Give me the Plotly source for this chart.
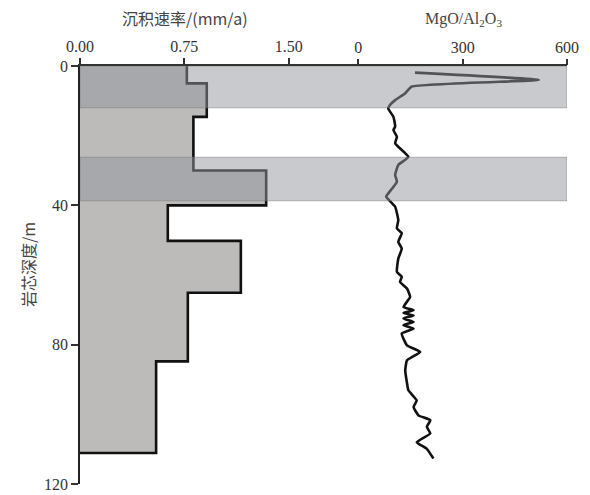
import plotly.graph_objects as go

# Sedimentation rate (mm/a), step intervals by core depth (m)
rate_depth_bounds = [0, 5.0, 14.6, 30.0, 40.0, 50.2, 65.1, 84.8, 111.1]
rate_values = [0.768, 0.911, 0.815, 1.338, 0.631, 1.156, 0.775, 0.547]

# MgO/Al2O3 profile
mg_depth = [1.9, 4.0, 5.9, 7.8, 9.8, 11.2, 12.2, 14.6, 17.4, 18.4, 20.3, 22.2,
            26.1, 28.4, 31.3, 33.2, 36.6, 37.5, 40.4, 44.3, 46.6, 48.0, 50.5,
            52.4, 55.3, 59.1, 60.5, 62.0, 63.9, 66.3, 69.2, 70.1, 70.9, 71.6,
            72.5, 73.5, 74.4, 75.4, 76.8, 80.2, 82.1, 84.5, 87.4, 91.0, 93.1,
            96.0, 97.9, 100.3, 101.7, 103.6, 105.5, 108.0, 109.9, 112.7]
mg_values = [163, 519, 154, 135, 106, 91, 86, 101, 106, 101, 111, 106,
             144, 115, 106, 111, 86, 80, 106, 115, 111, 125, 115,
             125, 115, 111, 125, 120, 140, 149, 130, 159, 130, 159,
             130, 159, 130, 159, 125, 140, 178, 140, 135, 140, 144,
             168, 159, 173, 207, 197, 207, 168, 197, 216]

# Highlighted depth intervals (m)
band_tops = [0, 26.2]
band_bottoms = [12.0, 38.7]

# tick labels
rate_ticks = [0, 0.75, 1.5]
rate_ticktext = ["0.00", "0.75", "1.50"]
mg_ticks = [0, 300, 600]
depth_ticks = [0, 40, 80, 120]

# build step polyline from the intervals
step_x, step_y = [], []
for i, r in enumerate(rate_values):
    step_x += [r, r]
    step_y += [rate_depth_bounds[i], rate_depth_bounds[i + 1]]
step_x.append(0)
step_y.append(rate_depth_bounds[-1])

serif = "Liberation Serif, Times New Roman, serif"
cjk = "Noto Sans CJK SC"

fig = go.Figure()
fig.add_trace(go.Scatter(x=step_x, y=step_y, mode="lines", fill="tozerox",
                         fillcolor="rgb(189,187,186)", line=dict(width=0),
                         hoverinfo="skip", showlegend=False))
fig.add_trace(go.Scatter(x=step_x, y=step_y, mode="lines",
                         line=dict(color="#111", width=2.6),
                         showlegend=False))
fig.add_trace(go.Scatter(x=mg_values, y=mg_depth, mode="lines", xaxis="x2",
                         line=dict(color="#111", width=2.6, shape="spline", smoothing=0.4),
                         showlegend=False))

for t, b in zip(band_tops, band_bottoms):
    fig.add_shape(type="rect", xref="x", yref="y", x0=0, x1=3.5, y0=t, y1=b,
                  fillcolor="rgba(146,149,155,0.5)",
                  line=dict(color="rgba(120,120,120,0.5)", width=1),
                  layer="above")

fig.update_layout(
    width=590, height=495,
    margin=dict(l=80, r=23, t=66, b=11),
    paper_bgcolor="white", plot_bgcolor="white",
    font=dict(family=serif, size=15, color="#333"),
    xaxis=dict(range=[0, 3.5], side="top", tickvals=rate_ticks, ticktext=rate_ticktext,
               ticks="outside", ticklen=6, tickwidth=1.5, tickcolor="#333",
               showline=True, linecolor="#333", linewidth=1.5,
               showgrid=False, zeroline=False, automargin=False,
               tickfont=dict(family=serif, size=16, color="#333")),
    xaxis2=dict(range=[-800, 600], overlaying="x", side="top", tickvals=mg_ticks,
                ticks="outside", ticklen=6, tickwidth=1.5, tickcolor="#333",
                showline=False, showgrid=False, zeroline=False, automargin=False,
                tickfont=dict(family=serif, size=16, color="#333")),
    yaxis=dict(range=[120, 0], tickvals=depth_ticks, ticks="outside", ticklen=7,
               tickwidth=1.5, tickcolor="#333", showline=True, linecolor="#222",
               linewidth=1.8, showgrid=False, zeroline=False, automargin=False,
               tickfont=dict(family=serif, size=16, color="#333")),
    annotations=[
        dict(text="沉积速率/(mm/a)", xref="paper", yref="paper", x=(185 - 80) / 487,
             y=1 + (66 - 18) / 418, showarrow=False, xanchor="center", yanchor="middle",
             font=dict(family=cjk + ", " + serif, size=16, color="#444")),
        dict(text="MgO/Al<sub>2</sub>O<sub>3</sub>", xref="paper", yref="paper",
             x=(463 - 80) / 487, y=1 + (66 - 20) / 418, showarrow=False,
             xanchor="center", yanchor="middle",
             font=dict(family=serif, size=16, color="#444")),
        dict(text="岩芯深度/m", xref="paper", yref="paper", x=-(80 - 28) / 487,
             y=1 - (265 - 66) / 418, showarrow=False, textangle=-90,
             xanchor="center", yanchor="middle",
             font=dict(family=cjk, size=16, color="#444")),
    ],
)

fig.write_html("out.html")
